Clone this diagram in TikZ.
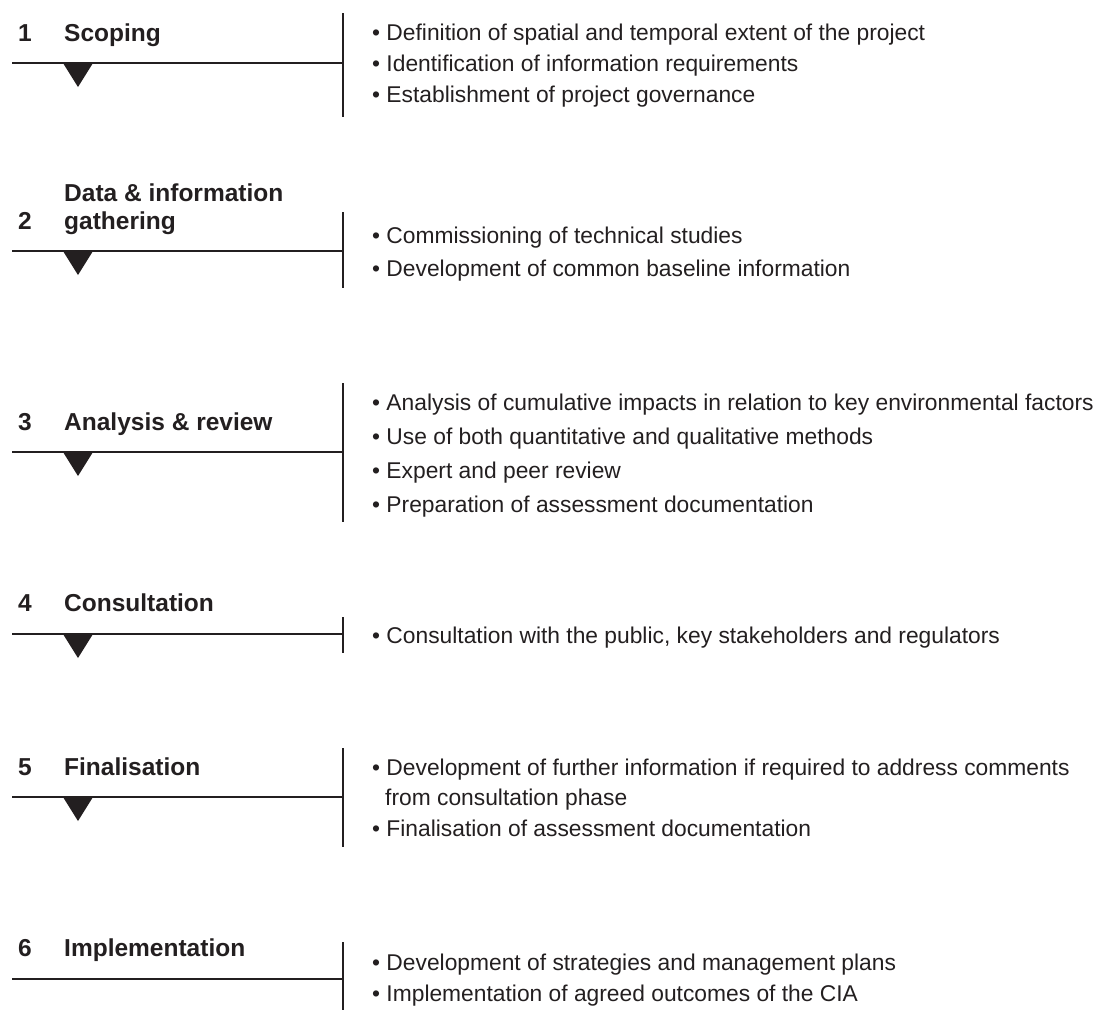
\documentclass[tikz,border=0pt]{standalone}
\usepackage{fontspec}
\setmainfont{Liberation Sans}
\definecolor{ink}{HTML}{231F20}

\begin{document}
\begin{tikzpicture}[x=1pt, y=-1pt,
  rule/.style={ink, line width=1.6pt},
  marker/.style={fill=ink},
  num/.style={anchor=base west, inner sep=0pt, text=ink, font=\fontsize{24.5}{28}\selectfont\bfseries},
  stage/.style={anchor=base west, inner sep=0pt, text=ink, font=\fontsize{24.5}{28}\selectfont\bfseries},
  item/.style={anchor=base west, inner sep=0pt, text=ink, font=\fontsize{22.8}{32}\selectfont}]
\useasboundingbox (0,0) rectangle (1096,1010);

% 1 scoping
\node[num] (num_1) at (18,41) {1};
\node[stage] (stage_1) at (64,41) {Scoping};
\coordinate (l1) at (12,63); \coordinate (r1) at (343,63);
\coordinate (t1) at (343,13); \coordinate (b1) at (343,117);
\draw[rule] (l1) -- (r1) (t1) -- (b1);
\fill[marker] (63,63) -- (93,63) -- (78,87) -- cycle;
\node[item] (item_1a) at (372,40) {\textbullet\ Definition of spatial and temporal extent of the project};
\node[item] (item_1b) at (372,71) {\textbullet\ Identification of information requirements};
\node[item] (item_1c) at (372,102) {\textbullet\ Establishment of project governance};

% 2 data gathering
\node[stage] (stage_2a) at (64,201) {Data \& information};
\node[stage] (stage_2b) at (64,229) {gathering};
\node[num] (num_2) at (18,229) {2};
\coordinate (l2) at (12,251); \coordinate (r2) at (343,251);
\coordinate (t2) at (343,212); \coordinate (b2) at (343,288);
\draw[rule] (l2) -- (r2) (t2) -- (b2);
\fill[marker] (63,251) -- (93,251) -- (78,275) -- cycle;
\node[item] (item_2a) at (372,243) {\textbullet\ Commissioning of technical studies};
\node[item] (item_2b) at (372,276) {\textbullet\ Development of common baseline information};

% 3 analysis
\node[num] (num_3) at (18,430) {3};
\node[stage] (stage_3) at (64,430) {Analysis \& review};
\coordinate (l3) at (12,452); \coordinate (r3) at (343,452);
\coordinate (t3) at (343,383); \coordinate (b3) at (343,522);
\draw[rule] (l3) -- (r3) (t3) -- (b3);
\fill[marker] (63,452) -- (93,452) -- (78,476) -- cycle;
\node[item] (item_3a) at (372,410) {\textbullet\ Analysis of cumulative impacts in relation to key environmental factors};
\node[item] (item_3b) at (372,444) {\textbullet\ Use of both quantitative and qualitative methods};
\node[item] (item_3c) at (372,478) {\textbullet\ Expert and peer review};
\node[item] (item_3d) at (372,512) {\textbullet\ Preparation of assessment documentation};

% 4 consultation
\node[num] (num_4) at (18,611) {4};
\node[stage] (stage_4) at (64,611) {Consultation};
\coordinate (l4) at (12,634); \coordinate (r4) at (343,634);
\coordinate (t4) at (343,617); \coordinate (b4) at (343,653);
\draw[rule] (l4) -- (r4) (t4) -- (b4);
\fill[marker] (63,634) -- (93,634) -- (78,658) -- cycle;
\node[item] (item_4a) at (372,643) {\textbullet\ Consultation with the public, key stakeholders and regulators};

% 5 finalisation
\node[num] (num_5) at (18,775) {5};
\node[stage] (stage_5) at (64,775) {Finalisation};
\coordinate (l5) at (12,797); \coordinate (r5) at (343,797);
\coordinate (t5) at (343,748); \coordinate (b5) at (343,847);
\draw[rule] (l5) -- (r5) (t5) -- (b5);
\fill[marker] (63,797) -- (93,797) -- (78,821) -- cycle;
\node[item] (item_5a) at (372,775) {\textbullet\ Development of further information if required to address comments};
\node[item] (item_5b) at (385,805) {from consultation phase};
\node[item] (item_5c) at (372,836) {\textbullet\ Finalisation of assessment documentation};

% 6 implementation
\node[num] (num_6) at (18,956) {6};
\node[stage] (stage_6) at (64,956) {Implementation};
\coordinate (l6) at (12,979); \coordinate (r6) at (343,979);
\coordinate (t6) at (343,942); \coordinate (b6) at (343,1010);
\draw[rule] (l6) -- (r6) (t6) -- (b6);
\node[item] (item_6a) at (372,970) {\textbullet\ Development of strategies and management plans};
\node[item] (item_6b) at (372,1001) {\textbullet\ Implementation of agreed outcomes of the CIA};

\end{tikzpicture}
\end{document}
